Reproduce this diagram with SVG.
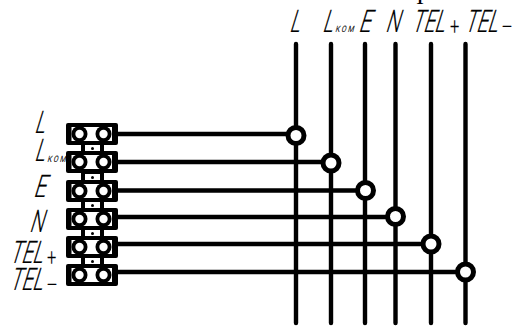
<svg xmlns="http://www.w3.org/2000/svg" width="514" height="327" viewBox="0 0 514 327">
<style>
.w{stroke:#000;stroke-width:4.400;fill:none;stroke-linecap:round}
.d{fill:#fff;stroke:#000;stroke-width:5}
.t{font-family:Roboto,"Liberation Sans",sans-serif;font-weight:300;font-size:31px;fill:#000;stroke:#000;stroke-width:.2}
.s{font-size:10.500px;letter-spacing:2.500px;font-weight:400;stroke:none}
.p{font-size:30px}
.b{fill:#000}.h{fill:#fff}
.f{font-family:"Liberation Serif",serif;font-size:24px;fill:#000}
</style>
<defs>
<g id="term">
<rect x="66" y="-1" width="52" height="22" rx="2" class="b"/>
<rect x="70" y="3" width="43" height="14" class="h"/>
<circle cx="79.500" cy="10" r="8" class="b"/>
<circle cx="103.500" cy="10" r="8" class="b"/>
<circle cx="79.500" cy="10" r="4.200" class="h"/>
<circle cx="103.500" cy="10" r="4.200" class="h"/>
<rect x="70" y="3" width="1.500" height="14" class="b"/>
<rect x="112" y="3" width="1.500" height="14" class="b"/>
</g>
<g id="link">
<rect x="81" y="-8" width="23" height="9" class="b"/>
<rect x="85" y="-7" width="15" height="7" class="h"/>
<circle cx="92.500" cy="-3.500" r="1.500" class="b"/>
</g>
</defs>
<g id="connectors">
<path class="w" d="M296 44V323M331 44V323M365 44V323M395.500 44V323M431 44V323M465.500 44V323"/>
<path class="w" d="M118 134H296M118 162H331M118 190.500H365M118 217H395.500M118 244H431M118 272H465.500"/>
</g>
<g id="dots">
<circle class="d" cx="296" cy="135.500" r="8"/>
<circle class="d" cx="331" cy="163" r="8"/>
<circle class="d" cx="365.500" cy="190.500" r="8"/>
<circle class="d" cx="395.500" cy="216.500" r="8"/>
<circle class="d" cx="431" cy="244" r="8"/>
<circle class="d" cx="465.500" cy="272" r="8"/>
</g>
<g id="terminals">
<use href="#term" y="124"/>
<use href="#link" y="152"/>
<use href="#term" y="152"/>
<use href="#link" y="181"/>
<use href="#term" y="181"/>
<use href="#link" y="209"/>
<use href="#term" y="209"/>
<use href="#link" y="237"/>
<use href="#term" y="237"/>
<use href="#link" y="265"/>
<use href="#term" y="265"/>
</g>
<g id="labels">
<text class="t" transform="translate(34 133) skewX(-17) scale(.62 1)">L</text>
<text class="t" transform="translate(34 161) skewX(-17) scale(.62 1)">L</text>
<text class="t s" transform="translate(47 162) skewX(-15) scale(.66 .85)">КОМ</text>
<text class="t" transform="translate(33 197) skewX(-17) scale(.68 1)">E</text>
<text class="t" transform="translate(29 232) skewX(-17) scale(.62 1)">N</text>
<text class="t" transform="translate(9 263) skewX(-17) scale(.63 1)">TEL</text>
<text class="t p" transform="translate(47 266) scale(.55 .8)">+</text>
<text class="t" transform="translate(9 290) skewX(-17) scale(.63 1)">TEL</text>
<text class="t p" transform="translate(46 293) scale(.7 .8)">−</text>
<text class="t" transform="translate(289 32) skewX(-17) scale(.62 1)">L</text>
<text class="t" transform="translate(322 32) skewX(-17) scale(.62 1)">L</text>
<text class="t s" transform="translate(335 32) skewX(-15) scale(.66 .85)">КОМ</text>
<text class="t" transform="translate(358 32) skewX(-17) scale(.68 1)">E</text>
<text class="t" transform="translate(385 32) skewX(-17) scale(.62 1)">N</text>
<text class="t" transform="translate(411 32) skewX(-17) scale(.63 1)">TEL</text>
<text class="t p" transform="translate(450 35) scale(.55 .8)">+</text>
<text class="t" transform="translate(464 32) skewX(-17) scale(.63 1)">TEL</text>
<text class="t p" transform="translate(501 35) scale(.7 .8)">−</text>
<text class="f" x="416" y="4">I</text>
</g>
</svg>
